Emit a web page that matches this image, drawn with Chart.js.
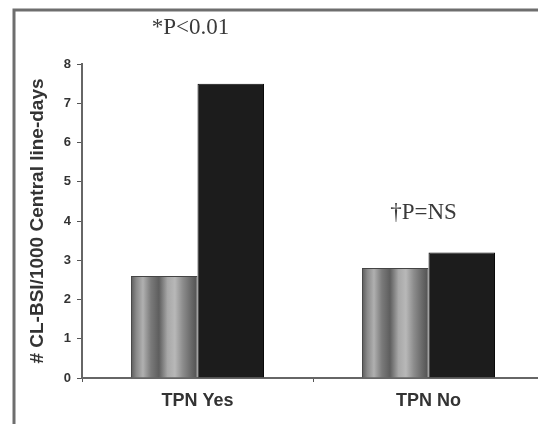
<!DOCTYPE html>
<html>
<head>
<meta charset="utf-8">
<script src="https://cdn.jsdelivr.net/npm/chart.js@4.4.1/dist/chart.umd.min.js"></script>
<style>
html,body{margin:0;padding:0;overflow:hidden;background:#fff;width:538px;height:424px;}
#wrap{position:absolute;left:0;top:0;width:548px;height:424px;}
</style>
</head>
<body>
<div id="wrap"><canvas id="c"></canvas></div>
<script>
const categories = ['TPN Yes', 'TPN No'];
const seriesA = [2.6, 2.8];   // grey striped bars
const seriesB = [7.5, 3.2];   // black bars
const yTicks = [0, 1, 2, 3, 4, 5, 6, 7, 8];
const yTitle = '# CL-BSI/1000 Central line-days';
const annotations = ['*P<0.01', '\u2020P=NS'];

const CAT_PCT = 0.576;

function greyFill(ctx) {
  const chart = ctx.chart;
  const xs = chart.scales && chart.scales.x;
  if (!xs || ctx.dataIndex === undefined) return '#8a8a8a';
  const c = xs.getPixelForValue(ctx.dataIndex);
  const cw = xs.getPixelForValue(1) - xs.getPixelForValue(0);
  if (!isFinite(c) || !isFinite(cw) || cw <= 0) return '#8a8a8a';
  const w = cw * CAT_PCT / 2;
  const x0 = c - w, x1 = c;
  const g = chart.ctx.createLinearGradient(x0, 0, x1, 0);
  const stops = [
    [0.00, '#5a5a5a'], [0.08, '#8a8a8a'], [0.18, '#b0b0b0'], [0.30, '#7a7a7a'],
    [0.42, '#5e5e5e'], [0.55, '#a8a8a8'], [0.66, '#b8b8b8'], [0.78, '#8c8c8c'],
    [0.90, '#6a6a6a'], [1.00, '#505050']
  ];
  stops.forEach(s => g.addColorStop(s[0], s[1]));
  return g;
}

const framePlugin = {
  id: 'frame',
  beforeDraw(chart) {
    const c = chart.ctx;
    c.save();
    c.fillStyle = '#fff';
    c.fillRect(0, 0, chart.width, chart.height);
    c.strokeStyle = '#6e6e6e';
    c.lineWidth = 3;
    c.beginPath();
    c.moveTo(14, 424);
    c.lineTo(14, 10);
    c.lineTo(chart.width, 10);
    c.stroke();
    c.restore();
  }
};

const annotPlugin = {
  id: 'annot',
  afterDraw(chart) {
    const c = chart.ctx;
    const xs = chart.scales.x, ys = chart.scales.y;
    c.save();
    c.fillStyle = '#3a3a3a';
    c.font = '23px "Liberation Serif", "Times New Roman", serif';
    c.textAlign = 'center';
    c.textBaseline = 'middle';
    c.fillText(annotations[0], xs.getPixelForValue(0) - 7, ys.getPixelForValue(8) - 36);
    c.fillText(annotations[1], xs.getPixelForValue(1) - 5, ys.getPixelForValue(4.2));
    c.restore();
  }
};

const chart = new Chart(document.getElementById('c'), {
  type: 'bar',
  data: {
    labels: categories,
    datasets: [
      { data: seriesA, backgroundColor: greyFill, borderColor: '#444', borderWidth: 1,
        categoryPercentage: CAT_PCT, barPercentage: 1 },
      { data: seriesB, backgroundColor: '#1c1c1c', borderColor: '#0a0a0a', borderWidth: 1,
        categoryPercentage: CAT_PCT, barPercentage: 1 }
    ]
  },
  options: {
    responsive: true,
    maintainAspectRatio: false,
    animation: false,
    layout: { padding: { top: 64, left: 0, right: 4, bottom: 0 } },
    plugins: { legend: { display: false }, tooltip: { enabled: false } },
    scales: {
      x: {
        grid: { display: true, drawOnChartArea: false, offset: true, tickLength: 4, color: '#555', lineWidth: 1 },
        border: { display: true, color: '#666', width: 2 },
        ticks: { color: '#333', padding: 8, font: { family: '"Liberation Sans", Arial, sans-serif', size: 18, weight: 'bold' } },
        afterFit(s) { s.height = 46; }
      },
      y: {
        min: 0, max: 8,
        afterBuildTicks(s) { s.ticks = yTicks.map(v => ({ value: v })); },
        grid: { display: true, drawOnChartArea: false, tickLength: 5, color: '#555', lineWidth: 1 },
        border: { display: true, color: '#666', width: 2 },
        ticks: { color: '#333', padding: 6, font: { family: '"Liberation Sans", Arial, sans-serif', size: 13, weight: 'bold' } },
        title: { display: true, text: yTitle, color: '#333', padding: { top: 26, bottom: 0 },
          font: { family: '"Liberation Sans", Arial, sans-serif', size: 19, weight: 'bold' } },
        afterFit(s) { s.width = 82; }
      }
    }
  },
  plugins: [framePlugin, annotPlugin]
});
chart.update();
</script>
</body>
</html>
